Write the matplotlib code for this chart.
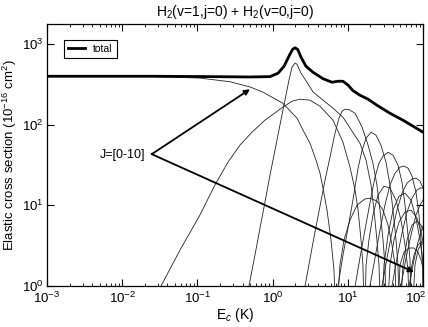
import matplotlib
matplotlib.use("Agg")
import matplotlib.pyplot as plt
import matplotlib.transforms as mtransforms
from matplotlib.ticker import LogLocator, NullLocator, FixedLocator

plt.rcParams['font.family'] = ['Liberation Sans', 'DejaVu Sans']
plt.rcParams['mathtext.fontset'] = 'custom'
plt.rcParams['mathtext.rm'] = 'Liberation Sans'
plt.rcParams['mathtext.it'] = 'Liberation Sans:italic'
plt.rcParams['mathtext.bf'] = 'Liberation Sans:bold'
plt.rcParams['axes.unicode_minus'] = False

# ---------------- data ----------------
x_ticks = [1e-3, 1e-2, 1e-1, 1e0, 1e1, 1e2]
y_ticks = [1e0, 1e1, 1e2, 1e3]

total_E = [0.001, 0.0234, 0.108, 0.5, 0.923, 1.18, 1.42, 1.70, 1.85, 1.99, 2.16, 2.39, 2.78,
           3.44, 4.68, 6.17, 7.41, 8.63, 10.1, 11.7, 14.5, 18.6, 24.4, 36.4, 54.2, 100]
total_s = [400, 400, 397, 392, 396, 436, 532, 750, 865, 902, 860, 688, 532,
           449, 373, 337, 347, 347, 310, 265, 233, 208, 175, 139, 114, 81]

j0_E = [0.001, 0.0234, 0.108, 0.271, 0.500, 0.745, 1.37, 2.11, 2.54, 3.14, 3.78, 4.27, 4.68,
        5.29, 5.98, 6.55, 6.97, 7.87, 8.90, 10.7, 13.3, 16.9, 19.7, 24.4, 29.4, 34.3, 38.7,
        42.5, 45.1, 49.5, 55.9, 65.2, 75.9, 85.8, 94.1, 100]
j0_s = [400, 398, 380, 342, 295, 254, 185, 121, 85.7, 59.1, 36.4, 25.1, 16.4,
        8.74, 3.72, 1.58, 0.3, 1.82, 3.72, 6.58, 10.1, 12.0, 12.3, 11.3, 8.74, 5.70, 3.22,
        1.82, 0.3, 1.82, 2.64, 2.96, 2.96, 2.64, 2.10, 1.67]

j1_E = [0.0299, 0.0328, 0.0587, 0.108, 0.171, 0.255, 0.368, 0.532, 0.792, 1.25, 1.81, 2.31,
        3.14, 4.27, 6.36, 8.63, 10.7, 12.5, 13.7, 15.0, 15.9, 16.7, 17.5, 19.1, 21.6, 25.2,
        30.3, 36.4, 43.8, 50.9, 57.7, 63.2, 66.1, 69.3, 75.9, 85.8, 94.1, 100]
j1_s = [0.85, 1.0, 2.79, 7.58, 17.9, 34.4, 55.9, 81.0, 114, 156, 196, 208,
        202, 170, 114, 60.8, 29.8, 15.5, 8.74, 3.72, 1.82, 0.3, 1.82, 3.72, 7.58, 13.4,
        17.3, 16.4, 11.6, 6.58, 3.22, 1.58, 0.3, 1.58, 2.42, 3.22, 3.51, 3.42]

j2_E = [0.457, 0.485, 0.583, 0.680, 0.792, 0.923, 1.11, 1.29, 1.46, 1.65, 1.81, 1.99, 2.11,
        2.39, 2.87, 3.44, 4.68, 6.36, 8.63, 11.4, 14.5, 17.5, 20.4, 22.3, 24.4, 26.0, 27.6,
        30.3, 34.3, 39.9, 48.0, 57.7, 69.3, 80.7, 91.2, 100]
j2_s = [0.5, 1.0, 2.42, 5.23, 11.0, 23.7, 55.9, 114, 202, 357, 517, 585, 564,
        436, 337, 256, 202, 161, 124, 83.3, 59.1, 36.4, 17.9, 8.74, 3.72, 1.82, 0.3,
        1.82, 4.29, 8.74, 13.0, 14.2, 11.6, 6.96, 3.72, 1.98]

j3_E = [2.54, 2.70, 3.14, 3.66, 4.27, 4.98, 5.80, 6.76, 7.64, 8.37, 9.18, 10.4, 12.5, 15.5,
        18.6, 21.6, 24.4, 26.8, 29.4, 31.2, 32.7, 36.4, 41.1, 48.0, 57.7, 69.3, 83.2, 94.1, 100]
j3_s = [0.5, 1.0, 2.16, 4.67, 9.80, 20.6, 39.7, 78.7, 121, 147, 156, 154, 139, 93.4,
        55.9, 33.4, 17.9, 8.74, 3.72, 1.82, 0.3, 1.82, 3.72, 6.21, 8.26, 8.74, 6.96, 4.67, 3.51]

j4_E = [6.97, 7.41, 8.63, 10.07, 11.7, 13.7, 15.5, 17.5, 20.4, 23.7, 27.6, 32.2, 36.4, 39.9,
        43.8, 46.5, 48.7, 54.2, 61.3, 71.4, 83.2, 94.1, 100]
j4_s = [0.5, 1.0, 2.42, 5.23, 11.6, 29.0, 48.4, 68.2, 81.0, 74.3, 55.9, 34.4, 17.9, 8.74,
        3.72, 1.82, 0.3, 1.82, 3.72, 5.70, 6.39, 5.70, 4.94]

j5_E = [11.7, 12.5, 14.5, 16.9, 19.7, 23.0, 26.0, 29.4, 34.3, 39.9, 46.5, 52.6, 57.7, 63.2,
        67.2, 70.3, 78.3, 85.8, 94.1, 100]
j5_s = [0.5, 1.0, 2.22, 4.94, 10.7, 22.4, 33.4, 40.8, 45.7, 42.0, 31.6, 19.4, 10.1, 4.29,
        2.10, 0.3, 1.82, 2.79, 3.31, 3.31]

j6_E = [18.6, 19.7, 23.0, 26.8, 31.2, 36.4, 42.5, 49.5, 55.9, 63.2, 71.4, 80.7, 88.5, 94.1,
        98.4, 101.6]
j6_s = [0.5, 1.0, 2.22, 4.94, 10.1, 17.9, 25.1, 29.8, 30.7, 29.0, 23.1, 14.6, 7.58, 3.72,
        1.82, 0.3]

j7_E = [26.8, 28.5, 33.2, 38.7, 45.1, 52.6, 61.3, 71.4, 80.7, 91.2, 100]
j7_s = [0.5, 1.0, 2.22, 4.67, 8.74, 14.2, 18.9, 21.2, 21.8, 20.0, 16.4]

j8_E = [36.4, 38.7, 45.1, 52.6, 61.3, 71.4, 83.2, 91.2, 100]
j8_s = [0.5, 1.0, 2.22, 4.54, 8.26, 12.3, 15.5, 16.4, 16.4]

j9_E = [48.0, 50.9, 59.5, 69.3, 80.7, 91.2, 100]
j9_s = [0.5, 1.0, 2.22, 4.29, 7.58, 10.1, 11.6]

j10_E = [61.3, 65.2, 75.9, 85.8, 94.1, 100]
j10_s = [0.5, 1.0, 2.10, 3.51, 4.67, 5.54]

partials = [(j0_E, j0_s), (j1_E, j1_s), (j2_E, j2_s), (j3_E, j3_s), (j4_E, j4_s),
            (j5_E, j5_s), (j6_E, j6_s), (j7_E, j7_s), (j8_E, j8_s), (j9_E, j9_s),
            (j10_E, j10_s)]

title = "H$_2$(v=1,j=0) + H$_2$(v=0,j=0)"
xlabel = "E$_c$ (K)"
ylabel = "Elastic cross section (10$^{-16}$ cm$^2$)"
annot_text = "J=[0-10]"
annot_tail = (0.0247, 43.2)
annot_heads = [(0.5, 276), (75.9, 1.49)]

# ---------------- figure ----------------
fig = plt.figure(figsize=(4.28, 3.27), dpi=100)
ax = fig.add_axes([0.1098, 0.1254, 0.8785, 0.8012])

for E, s in partials:
    ax.plot(E, s, color='#222222', lw=0.6)
ax.plot(total_E, total_s, color='black', lw=2.0, label='total')

ax.set_xscale('log')
ax.set_yscale('log')
ax.set_xlim(1e-3, 1e2)
ax.set_ylim(1, 1780)

ax.xaxis.set_major_locator(FixedLocator(x_ticks))
ax.xaxis.set_minor_locator(LogLocator(base=10, subs=range(2, 10), numticks=20))
ax.yaxis.set_major_locator(FixedLocator(y_ticks))
ax.yaxis.set_minor_locator(NullLocator())

ax.tick_params(which='both', direction='in', top=True, right=True, labelsize=9.5)
ax.tick_params(which='major', length=5, width=0.8)
ax.tick_params(which='minor', length=2.5, width=0.6)
ax.tick_params(axis='y', pad=2.5)
for sp in ax.spines.values():
    sp.set_linewidth(0.9)

ax.set_title(title, fontsize=10, pad=6)
ax.set_xlabel(xlabel, fontsize=10)
ax.set_ylabel(ylabel, fontsize=9.5)
ax.xaxis.set_label_coords(0.5, -0.075)
ax.yaxis.set_label_coords(-0.098, 0.5)
ax.yaxis.label.set_va('center')

leg = ax.legend(loc='upper left', bbox_to_anchor=(0.045, 0.94), borderaxespad=0,
                fontsize=7.5, handlelength=1.6, fancybox=False, framealpha=1,
                edgecolor='black', borderpad=0.4, handletextpad=0.8)
leg.get_frame().set_linewidth(0.8)

ax.text(0.0201, 42.0, annot_text, ha='right', va='center', fontsize=9)
for head in annot_heads:
    ax.annotate('', xy=head, xytext=annot_tail,
                arrowprops=dict(arrowstyle='-|>', lw=1.3, color='black',
                                shrinkA=0, shrinkB=0, mutation_scale=8))

# nudge the right-most x tick label inside the canvas, as in the reference
fig.canvas.draw()
last_tick = ax.xaxis.get_major_ticks()[len(x_ticks) - 1]
last_tick.label1.set_transform(last_tick.label1.get_transform() +
                               mtransforms.ScaledTranslation(-5 / 72, 0, fig.dpi_scale_trans))

fig.savefig('out.png', dpi=100)
